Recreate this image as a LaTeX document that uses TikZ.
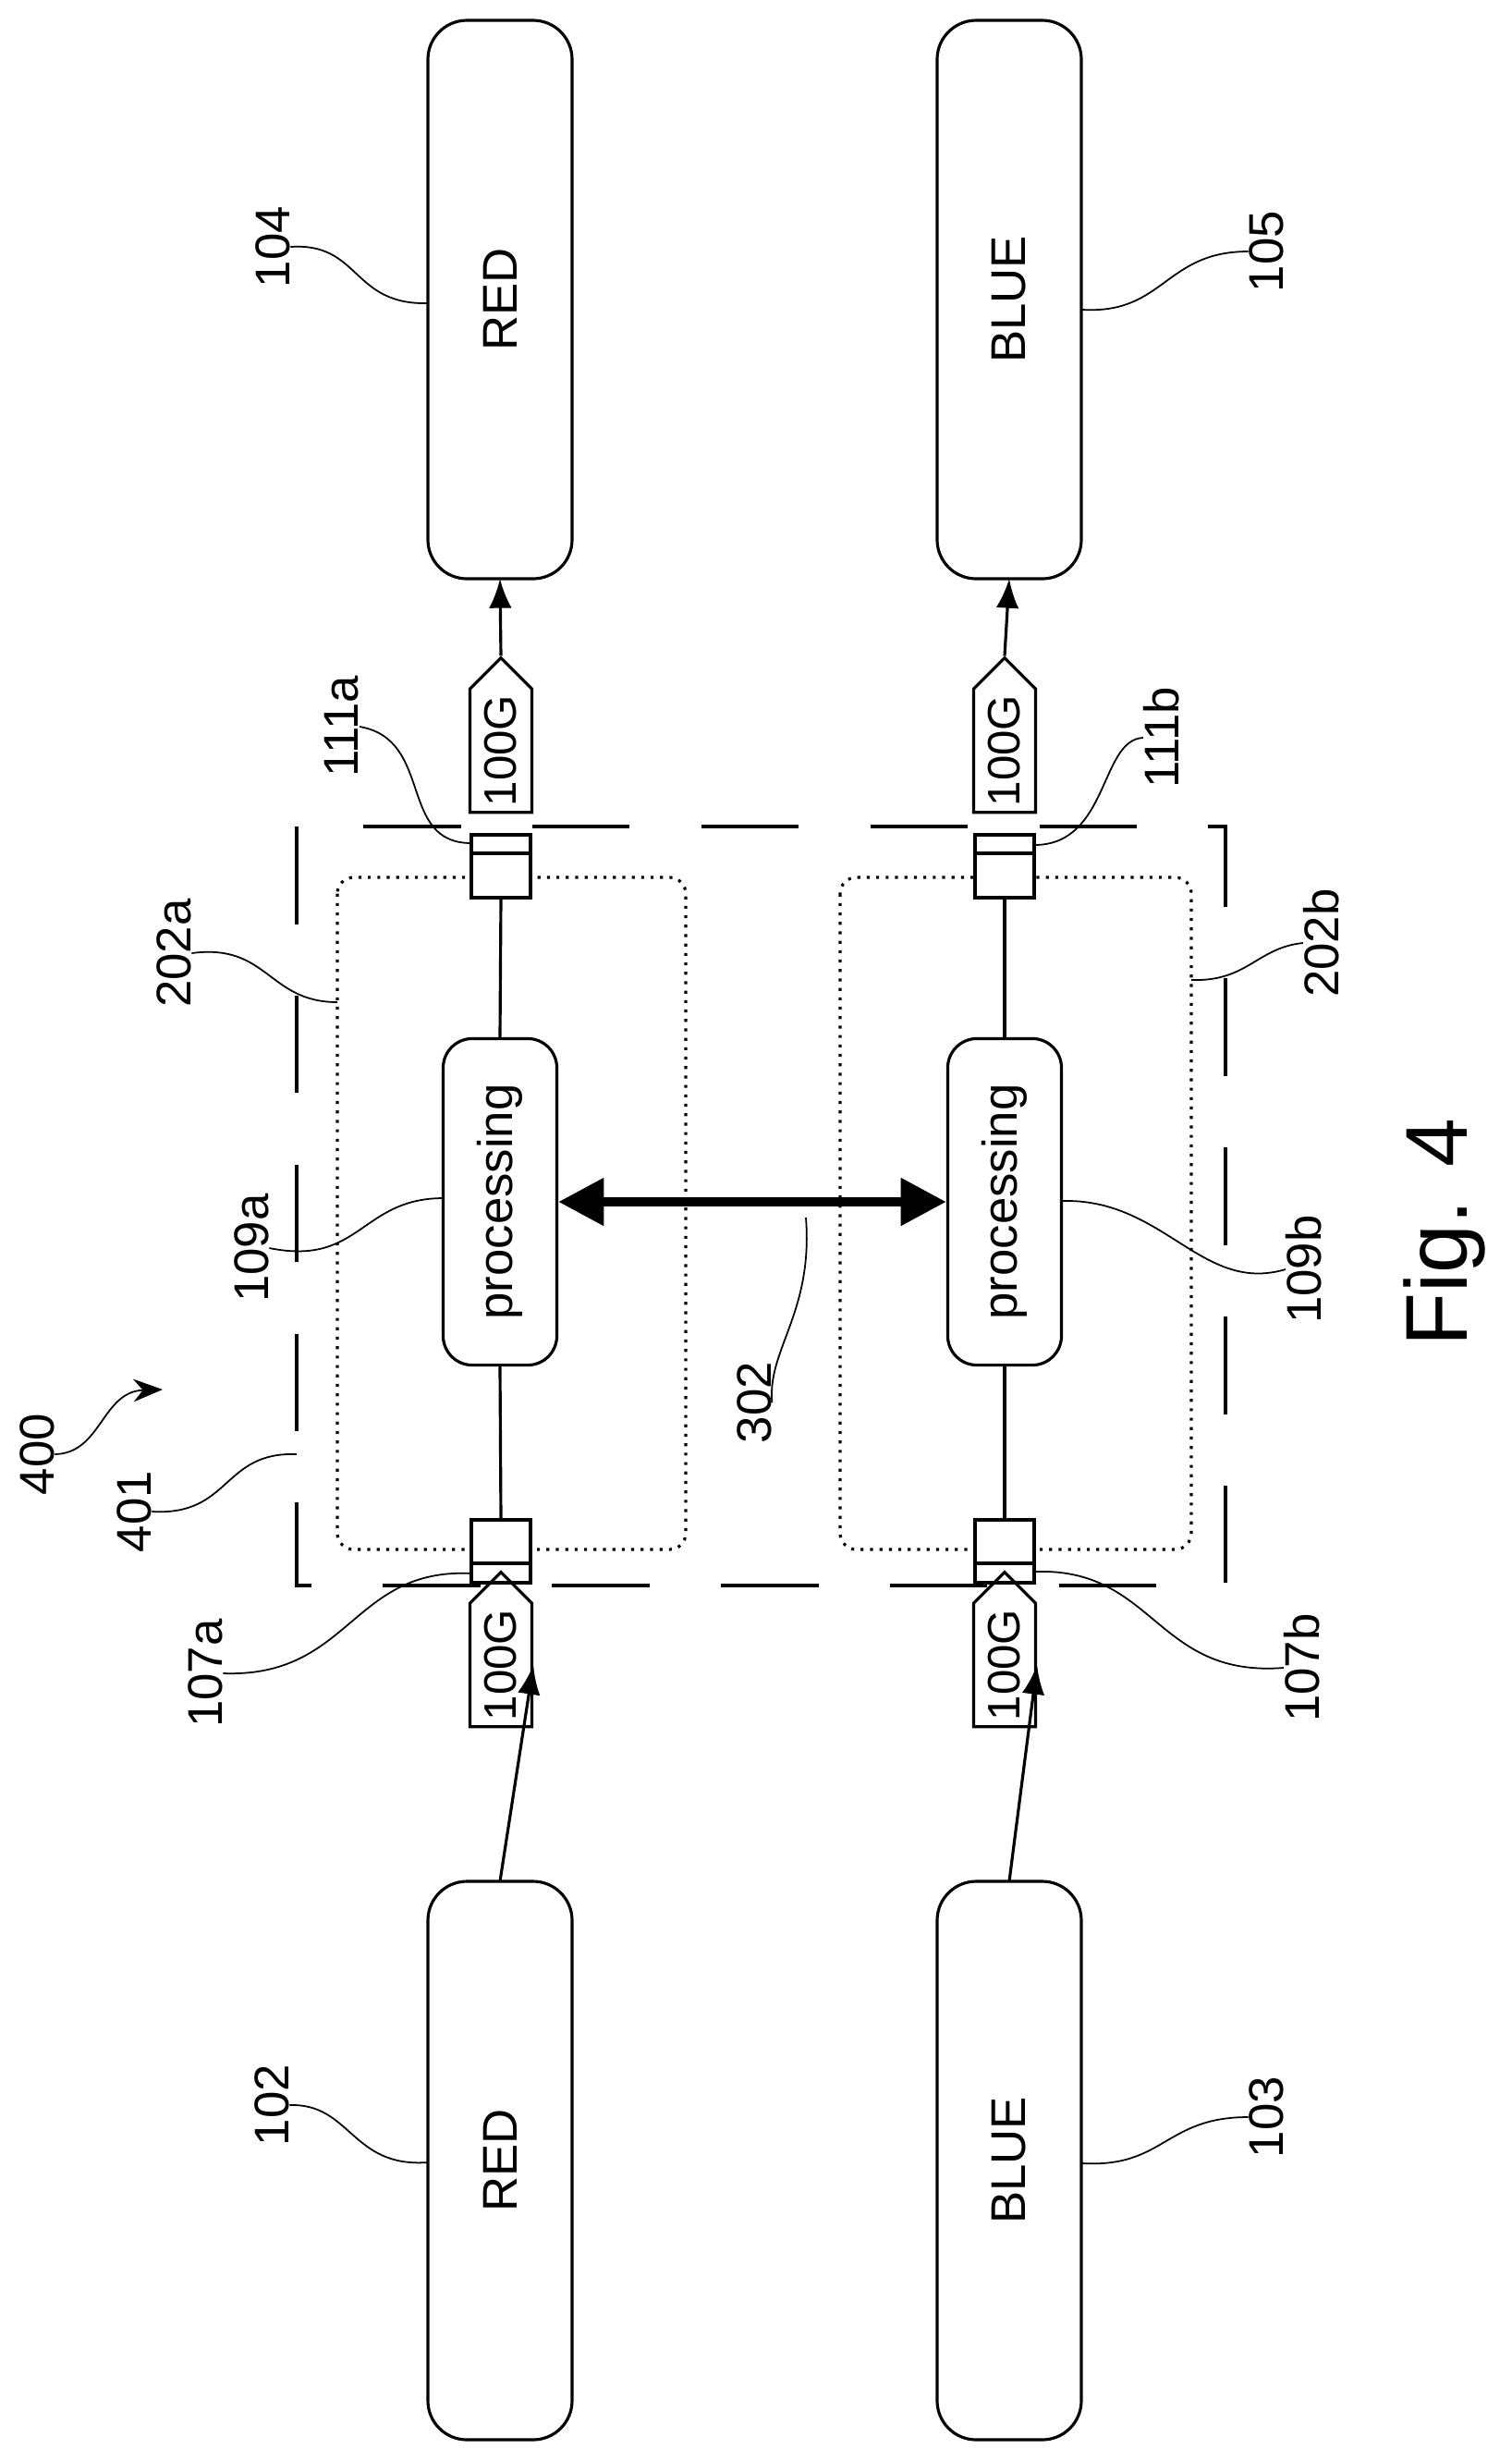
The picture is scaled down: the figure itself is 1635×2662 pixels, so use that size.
\documentclass[tikz,border=0pt]{standalone}
\usepackage{fontspec}
\setmainfont{Liberation Sans}
\usetikzlibrary{shapes.symbols,arrows.meta}
\begin{document}
\begin{tikzpicture}[x=0.01cm,y=-0.01cm,
  box/.style={draw,line width=0.9pt,rounded corners=5pt,minimum width=155\pgflinewidth,inner sep=0},
  lbl/.style={rotate=90,font=\fontsize{15}{15}\selectfont,inner sep=0},
  btxt/.style={rotate=90,font=\fontsize{15}{15}\selectfont},
  lead/.style={line width=0.5pt},
  tag/.style={draw,line width=0.9pt,shape=signal,signal to=east,rotate=90,signal pointer angle=90,
     minimum height=0.67cm,minimum width=1.67cm,inner sep=0,font=\fontsize{14}{14}\selectfont},
  port/.style={draw,line width=0.9pt,fill=white,minimum width=0.64cm,minimum height=0.68cm,inner sep=0},
  ln/.style={line width=0.9pt},
  arr/.style={line width=0.9pt,-{Latex[length=9pt,width=7pt]}}]
\useasboundingbox (0,0) rectangle (1635,2662);
% outer dashed box 401
\draw[line width=0.9pt,dash pattern=on 30pt off 22pt] (321,894) rectangle (1326,1715);
% dotted boxes
\draw[line width=0.9pt,dotted,rounded corners=5pt] (365,949) rectangle (742,1676);
\draw[line width=0.9pt,dotted,rounded corners=5pt] (909,949) rectangle (1289,1676);
% end boxes
\foreach \n/\x/\y/\t in {b102/541/2337/RED,b104/541/324/RED,b103/1092/2337/BLUE,b105/1092/324/BLUE}{
  \draw[line width=0.9pt,rounded corners=12pt] (\x-78,\y-302) rectangle (\x+78,\y+302);
  \node[btxt] (\n) at (\x,\y) {\t};
}
\coordinate (b102t) at (541,2035); \coordinate (b103t) at (1092,2035);
\coordinate (b104b) at (541,626);  \coordinate (b105b) at (1092,626);
% processing
\node[draw,line width=0.9pt,rounded corners=9pt,minimum width=3.53cm,minimum height=1.23cm,rotate=90,font=\fontsize{15}{15}\selectfont] (p1) at (541,1300) {processing};
\node[draw,line width=0.9pt,rounded corners=9pt,minimum width=3.53cm,minimum height=1.23cm,rotate=90,font=\fontsize{15}{15}\selectfont] (p2) at (1087,1300) {processing};
% ports
\node[port] (i1) at (542,1678) {}; \draw[ln] (510,1691) -- (574,1691);
\node[port] (o1) at (542,937) {};  \draw[ln] (510,923) -- (574,923);
\node[port] (i2) at (1087,1678) {}; \draw[ln] (1055,1691) -- (1119,1691);
\node[port] (o2) at (1087,937) {};  \draw[ln] (1055,923) -- (1119,923);
% tags
\node[tag] (ti1) at (542,1801) {100G};
\node[tag] (to1) at (542,812) {100G};
\node[tag] (ti2) at (1087,1801) {100G};
\node[tag] (to2) at (1087,812) {100G};
% connectors
\draw[arr] (b102t) -- (ti1.south);
\draw[arr] (b103t) -- (ti2.south);
\draw[arr] (to1.east) -- (b104b);
\draw[arr] (to2.east) -- (b105b);
\draw[ln] (i1.north) -- (p1.west); \draw[ln] (p1.east) -- (o1.south);
\draw[ln] (i2.north) -- (p2.west); \draw[ln] (p2.east) -- (o2.south);
% double arrow 302
\draw[line width=3pt,{Triangle[length=14pt,width=14pt]}-{Triangle[length=14pt,width=14pt]}] (p1.south) -- (p2.north);
% labels
\node[lbl] (l400) at (40,1573) {400};
\draw[lead,-{Stealth[length=9pt,width=7pt]}] (l400.south) .. controls (110,1572) and (110,1505) .. (176,1503);
\node[lbl] (l401) at (145,1635) {401};
\draw[lead] (l401.south) .. controls (250,1640) and (240,1570) .. (321,1573);
\node[lbl] (l107a) at (222,1810) {107a};
\draw[lead] (l107a.south) .. controls (380,1815) and (380,1695) .. (511,1702);
\node[lbl] (l107b) at (1409,1804) {107b};
\draw[lead] (l107b.north) .. controls (1250,1815) and (1250,1695) .. (1119,1700);
\node[lbl] (l102) at (294,2277) {102};
\draw[lead] (l102.south) .. controls (380,2275) and (380,2345) .. (463,2339);
\node[lbl] (l103) at (1370,2290) {103};
\draw[lead] (l103.north) .. controls (1260,2290) and (1260,2345) .. (1171,2340);
\node[lbl] (l104) at (295,267) {104};
\draw[lead] (l104.south) .. controls (390,262) and (380,330) .. (463,328);
\node[lbl] (l105) at (1370,272) {105};
\draw[lead] (l105.north) .. controls (1260,272) and (1260,340) .. (1171,335);
\node[lbl] (l111a) at (370,786) {111a};
\draw[lead] (l111a.south) .. controls (470,800) and (430,912) .. (510,912);
\node[lbl] (l111b) at (1257,798) {111b};
\draw[lead] (l111b.north) .. controls (1190,800) and (1200,914) .. (1119,914);
\node[lbl] (l202a) at (188,1031) {202a};
\draw[lead] (l202a.south) .. controls (290,1020) and (290,1084) .. (365,1084);
\node[lbl] (l202b) at (1430,1020) {202b};
\draw[lead] (l202b.north) .. controls (1360,1025) and (1350,1062) .. (1289,1060);
\node[lbl] (l109a) at (272,1350) {109a};
\draw[lead] (l109a.south) .. controls (390,1370) and (390,1296) .. (480,1296);
\node[lbl] (l109b) at (1411,1373) {109b};
\draw[lead] (l109b.north) .. controls (1300,1400) and (1260,1296) .. (1149,1299);
\node[lbl] (l302) at (816,1517) {302};
\draw[lead] (l302.south) .. controls (830,1460) and (880,1420) .. (872,1317);
\node[rotate=90,font=\fontsize{27}{27}\selectfont,inner sep=0] (fig) at (1563,1333) {Fig. 4};
\end{tikzpicture}
\end{document}
